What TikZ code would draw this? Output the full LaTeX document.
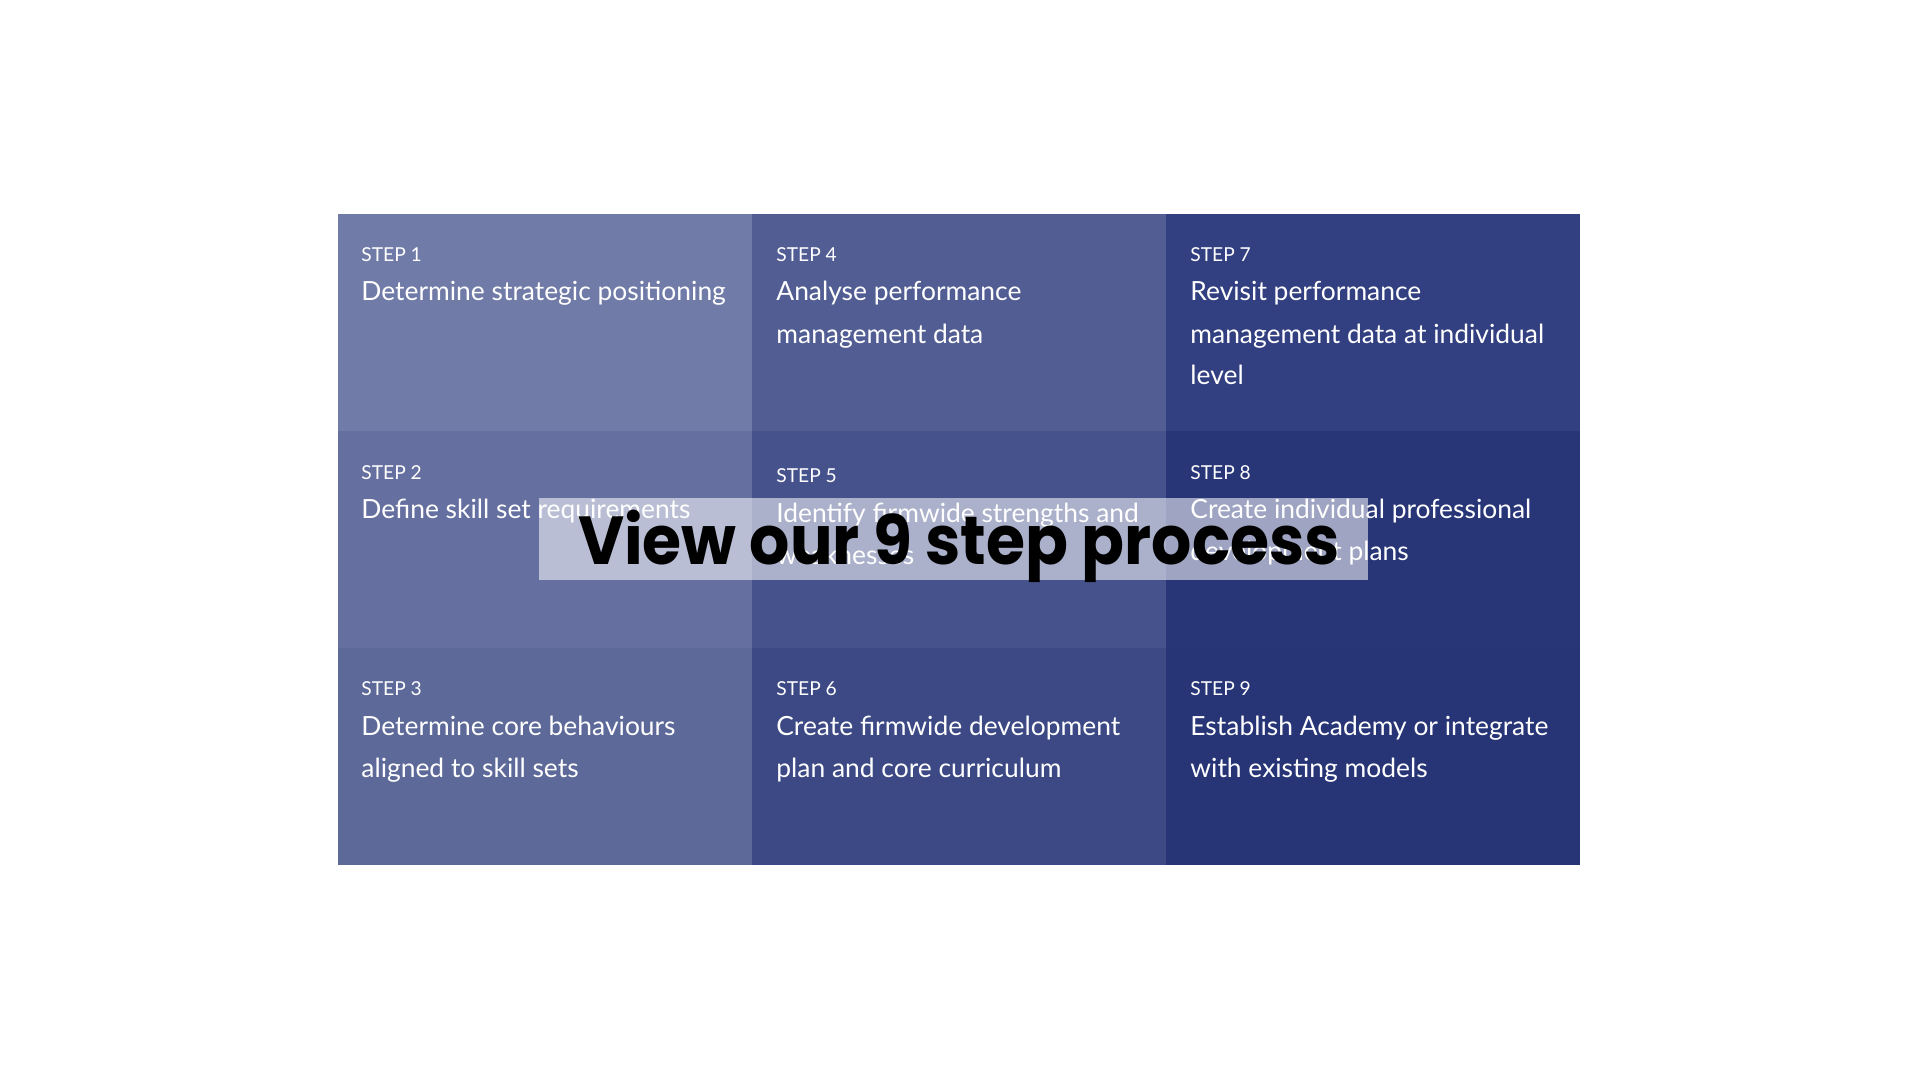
\documentclass[tikz,border=0pt]{standalone}
\usepackage{fontspec}
\setmainfont{Lato}
\newfontfamily\titlefont{Poppins}
\newcommand\bodylines[1]{\vtop{\let\\\cr\halign{##\hfil\cr#1\crcr}}}
\definecolor{c1}{RGB}{112,123,168}
\definecolor{c2}{RGB}{101,112,160}
\definecolor{c3}{RGB}{93,105,153}
\definecolor{c4}{RGB}{82,94,147}
\definecolor{c5}{RGB}{70,82,140}
\definecolor{c6}{RGB}{60,73,133}
\definecolor{c7}{RGB}{50,63,128}
\definecolor{c8}{RGB}{40,54,120}
\definecolor{c9}{RGB}{39,53,119}
\tikzset{
  cell/.style={fill=#1, draw=none, minimum width=207pt, minimum height=108.5pt, inner sep=0pt, outer sep=0pt, anchor=north west},
  steplabel/.style={text=white, anchor=base west, inner sep=0pt, font=\fontsize{9.6}{12}\selectfont},
  stepbody/.style={text=white, anchor=base west, inner sep=0pt, font=\fontsize{13.2}{21}\selectfont},
}
\begin{document}
\begin{tikzpicture}[x=0.5pt,y=-0.5pt]
\useasboundingbox[fill=white] (0,0) rectangle (1920,1080);
% cells
\node[cell=c1] (cell1) at (338,214) {};
\node[cell=c2] (cell2) at (338,431) {};
\node[cell=c3] (cell3) at (338,648) {};
\node[cell=c4] (cell4) at (752,214) {};
\node[cell=c5] (cell5) at (752,431) {};
\node[cell=c6] (cell6) at (752,648) {};
\node[cell=c7] (cell7) at (1166,214) {};
\node[cell=c8] (cell8) at (1166,431) {};
\node[cell=c9] (cell9) at (1166,648) {};
% column 1
\node[steplabel] (s1) at (361,262) {STEP 1};
\node[stepbody] (t1) at (361,301) {\bodylines{Determine strategic positioning}};
\node[steplabel] (s2) at (361,479) {STEP 2};
\node[stepbody] (t2) at (361,518) {\bodylines{Define skill set requirements}};
\node[steplabel] (s3) at (361,695) {STEP 3};
\node[stepbody] (t3) at (361,735) {\bodylines{Determine core behaviours\\aligned to skill sets}};
% column 2
\node[steplabel] (s4) at (776,262) {STEP 4};
\node[stepbody] (t4) at (776,301) {\bodylines{Analyse performance\\management data}};
\node[steplabel] (s5) at (776,482) {STEP 5};
\node[stepbody] (t5) at (776,522) {\bodylines{Identify firmwide strengths and\\weaknesses}};
\node[steplabel] (s6) at (776,695) {STEP 6};
\node[stepbody] (t6) at (776,735) {\bodylines{Create firmwide development\\plan and core curriculum}};
% column 3
\node[steplabel] (s7) at (1190,262) {STEP 7};
\node[stepbody] (t7) at (1190,301) {\bodylines{Revisit performance\\management data at individual\\level}};
\node[steplabel] (s8) at (1190,479) {STEP 8};
\node[stepbody] (t8) at (1190,518) {\bodylines{Create individual professional\\development plans}};
\node[steplabel] (s9) at (1190,695) {STEP 9};
\node[stepbody] (t9) at (1190,735) {\bodylines{Establish Academy or integrate\\with existing models}};
% overlay
\node[fill=white, fill opacity=0.55, draw=none, minimum width=414.5pt, minimum height=41pt, inner sep=0pt, anchor=north west] (banner) at (539,498) {};
\node[anchor=base, inner sep=0pt, text=black, font=\titlefont\bfseries\fontsize{34}{40}\selectfont] (title) at (959,564) {\scalebox{0.93}[1]{View our 9 step process}};
\end{tikzpicture}
\end{document}
